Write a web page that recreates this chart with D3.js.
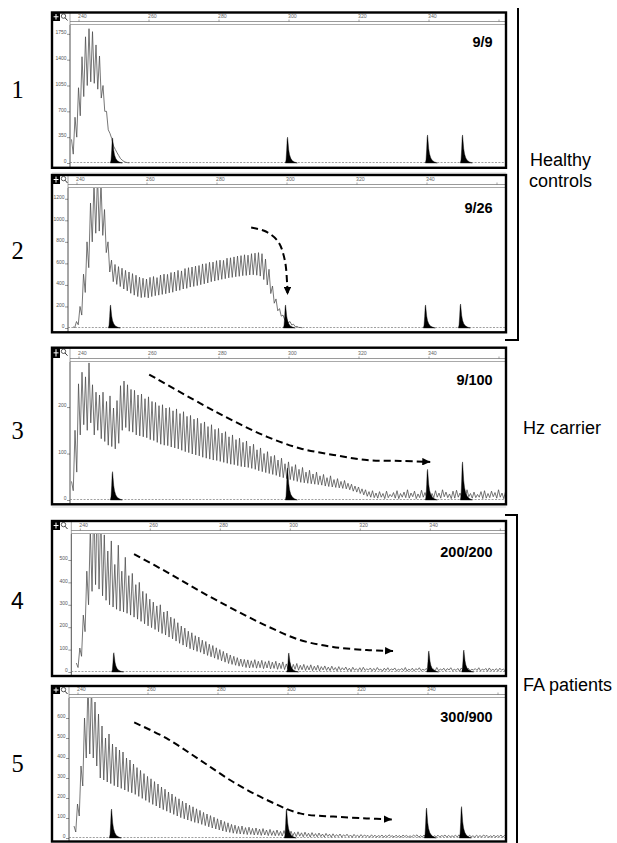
<!DOCTYPE html>
<html>
<head>
<meta charset="utf-8">
<title>Repeat expansion electropherograms</title>
<script src="https://cdn.jsdelivr.net/npm/d3@7"></script>
<style>
  body { margin: 0; background: #fff; }
  svg { display: block; }
</style>
</head>
<body>
<div id="chart"></div>
<script>
// ---- values ------------------------------------------------------------
const panelNumbers = ["1", "2", "3", "4", "5"];
const ratioLabels = ["9/9", "9/26", "9/100", "200/200", "300/900"];
const rulerTicks = [240, 260, 280, 300, 320, 340, 360];

const yTicks1 = [0, 350, 700, 1050, 1400, 1750];
const yTicks2 = [0, 200, 400, 600, 800, 1000, 1200];
const yTicks3 = [0, 100, 200];
const yTicks4 = [0, 100, 200, 300, 400, 500];
const yTicks5 = [0, 100, 200, 300, 400, 500, 600];
const yMax = [1870, 1300, 297, 616, 700];

// size standard peaks (bp) and their heights in each panel
const standardSizes = [249.7, 299.7, 339.7, 349.7];
const standardHeights1 = [340, 350, 380, 380];
const standardHeights2 = [214, 214, 214, 223];
const standardHeights3 = [61, 69, 66, 82];
const standardHeights4 = [86, 85, 94, 98];
const standardHeights5 = [145, 145, 150, 157];

// repeat trace: stutter maxima at whole bp from traceStart, minima half a bp later
const traceStart = [238, 239, 238, 239, 239];

const peaks1 = [320, 620, 1020, 1440, 1710, 1820, 1780, 1600, 1450, 1050, 700, 400, 230, 140, 60, 20, 5];
const valleys1 = [120, 350, 640, 900, 1050, 1100, 1080, 1000, 880, 700, 450, 330, 185, 100, 38, 10, 2];

const peaks2 = [10, 60, 200, 500, 800, 1160, 1350, 1420, 1350, 1100,
  800, 630, 590, 570, 555, 535, 520, 505, 490, 472,
  462, 455, 470, 478, 468, 492, 500, 498, 515, 520,
  535, 530, 552, 560, 566, 575, 580, 595, 598, 610,
  612, 625, 630, 628, 648, 652, 660, 668, 672, 680,
  676, 690, 695, 700, 690, 640, 545, 390, 270, 180,
  120, 85, 60, 35, 15, 5];
const valleys2 = [5, 30, 120, 330, 560, 800, 880, 900, 860, 700,
  520, 430, 405, 385, 362, 345, 322, 305, 292, 282,
  286, 280, 292, 300, 305, 312, 318, 326, 332, 344,
  350, 362, 368, 380, 386, 394, 402, 410, 418, 430,
  436, 444, 452, 458, 466, 470, 476, 480, 486, 488,
  492, 494, 490, 482, 450, 400, 320, 230, 160, 110,
  75, 48, 28, 12, 5, 2];

const peaks3 = [40, 150, 250, 275, 265, 295, 248, 232, 226, 232,
  212, 224, 198, 214, 246, 256, 248, 238, 236, 226,
  228, 218, 222, 212, 210, 203, 205, 198, 199, 192,
  196, 186, 190, 180, 182, 174, 176, 165, 168, 158,
  162, 152, 154, 144, 147, 136, 140, 130, 133, 124,
  127, 116, 120, 108, 112, 100, 104, 94, 96, 86,
  90, 78, 82, 72, 76, 66, 70, 60, 64, 56,
  60, 52, 55, 48, 52, 44, 46, 40, 42, 36,
  34, 30, 28, 24, 22, 18, 20, 15, 18, 14,
  19, 12, 16, 20, 14, 17, 22, 15, 19, 13,
  21, 16, 18, 14, 20, 15, 22, 17, 13, 19,
  21, 15, 18, 22, 14, 17, 12, 18, 20, 14,
  19, 16, 22, 15, 18];
const valleys3 = [20, 60, 140, 162, 150, 166, 140, 150, 132, 126,
  118, 115, 110, 122, 150, 156, 148, 146, 140, 138,
  136, 134, 130, 128, 124, 120, 118, 117, 114, 112,
  110, 107, 104, 102, 99, 97, 95, 92, 90, 88,
  86, 85, 83, 81, 79, 77, 76, 74, 72, 71,
  70, 68, 66, 63, 61, 59, 57, 55, 53, 50,
  48, 46, 44, 42, 40, 38, 37, 36, 35, 34,
  33, 32, 30, 29, 28, 27, 26, 25, 24, 22,
  19, 17, 14, 11, 8, 6, 5, 4, 6, 3,
  5, 7, 4, 3, 6, 5, 4, 7, 3, 5,
  6, 4, 3, 5, 6, 4, 7, 5, 3, 4,
  6, 5, 3, 7, 4, 5, 6, 3, 4, 5,
  7, 4, 6, 3, 5];

const peaks4 = [40, 107, 254, 450, 640, 760, 800, 720, 612, 540,
  585, 480, 566, 450, 512, 430, 440, 390, 400, 360,
  350, 325, 312, 295, 300, 268, 272, 245, 238, 220,
  205, 196, 182, 175, 162, 156, 142, 136, 124, 118,
  108, 100, 92, 84, 76, 70, 64, 58, 56, 54,
  50, 55, 48, 52, 46, 50, 44, 48, 40, 45,
  36, 42, 34, 38, 30, 34, 28, 32, 26, 30,
  24, 27, 22, 26, 20, 24, 19, 22, 17, 21,
  15, 19, 21, 14, 18, 16, 20, 13, 17, 19,
  14, 18, 12, 16, 20, 13, 17, 15, 19, 12,
  16, 18, 14, 20, 13, 17, 15, 19, 12, 16,
  18, 14, 17, 12, 15, 19, 13, 16, 18, 12,
  15, 17, 13, 16];
const valleys4 = [20, 70, 180, 300, 360, 390, 370, 340, 320, 300,
  290, 280, 272, 268, 262, 254, 245, 236, 226, 215,
  206, 198, 190, 180, 172, 165, 156, 148, 138, 128,
  120, 112, 104, 98, 92, 88, 80, 74, 68, 62,
  56, 50, 44, 38, 34, 30, 26, 24, 20, 18,
  20, 17, 19, 15, 18, 14, 16, 12, 15, 11,
  13, 10, 12, 8, 10, 7, 9, 6, 8, 5,
  9, 7, 6, 8, 5, 7, 9, 6, 4, 8,
  6, 5, 7, 9, 5, 6, 8, 4, 7, 6,
  9, 5, 8, 6, 4, 7, 5, 9, 6, 8,
  5, 7, 4, 6, 8, 5, 9, 6, 7, 4,
  8, 5, 6, 9, 7, 5, 8, 4, 6, 7,
  5, 8, 6, 4];

const peaks5 = [60, 170, 360, 600, 780, 760, 680, 620, 560, 500,
  520, 470, 455, 440, 430, 400, 390, 370, 352, 338,
  322, 308, 296, 282, 270, 255, 244, 230, 220, 206,
  196, 184, 175, 164, 156, 146, 138, 128, 120, 112,
  104, 96, 90, 82, 76, 68, 64, 58, 60, 52,
  54, 48, 50, 44, 47, 40, 43, 36, 40, 33,
  37, 30, 34, 28, 31, 26, 29, 24, 27, 22,
  25, 20, 23, 19, 21, 17, 20, 16, 19, 15,
  18, 14, 17, 15, 13, 16, 14, 12, 15, 13,
  16, 11, 14, 12, 15, 13, 11, 14, 16, 12,
  15, 13, 16, 11, 14, 12, 15, 13, 11, 14,
  16, 12, 15, 13, 11, 14, 12, 15, 13, 11,
  14, 12, 15, 13];
const valleys5 = [30, 110, 260, 400, 420, 400, 360, 300, 290, 280,
  272, 262, 255, 248, 240, 232, 226, 218, 208, 198,
  188, 178, 168, 160, 150, 142, 134, 126, 118, 110,
  102, 96, 90, 84, 78, 74, 68, 62, 56, 50,
  45, 40, 35, 31, 28, 24, 22, 20, 19, 17,
  18, 15, 16, 13, 15, 12, 13, 11, 12, 10,
  11, 9, 10, 7, 9, 6, 8, 5, 8, 6,
  7, 5, 8, 4, 6, 7, 5, 8, 6, 4,
  7, 5, 6, 8, 4, 6, 5, 7, 4, 6,
  8, 5, 6, 4, 7, 5, 6, 8, 4, 5,
  7, 6, 4, 6, 5, 8, 4, 6, 7, 5,
  4, 6, 5, 7, 4, 6, 5, 8, 4, 6,
  5, 7, 4, 6];

// dashed arrows, as [bp, signal] points
const arrow2 = [[289.9, 933], [294.1, 896], [297.6, 803], [299.5, 632], [300.2, 400], [300.3, 307]];
const arrow3 = [[260.2, 270], [274.8, 208], [284.3, 170], [293.9, 136], [303.4, 111], [312.9, 97], [322.4, 86], [332, 84], [340.5, 82]];
const arrow4 = [[255.5, 526], [264.9, 446], [274.3, 361], [283.8, 281], [293.5, 205], [302.9, 143], [312.3, 112], [322, 98], [329.5, 94]];
const arrow5 = [[256.2, 578], [265.5, 498], [275, 390], [284.5, 280], [294.1, 190], [303.6, 123], [313.1, 107], [322.6, 98], [329.8, 93]];

// ---- layout ------------------------------------------------------------
const width = 617, height = 843;
const frameLeft = 52, frameRight = 506;
const sans = "'Liberation Sans', Arial, Helvetica, sans-serif";
const serif = "'Liberation Serif', 'Times New Roman', serif";

const layout = [
  { top: 12.5, ruler: 25, zero: 163, bottom: 167.8, shift: 0, numY: 98, ratioY: 46.7 },
  { top: 175, ruler: 188, zero: 328, bottom: 332.3, shift: -2, numY: 259.3, ratioY: 212.7 },
  { top: 347.7, ruler: 362, zero: 500, bottom: 504.3, shift: 0, numY: 439, ratioY: 385 },
  { top: 521, ruler: 534, zero: 672, bottom: 676, shift: 1.3, numY: 609.3, ratioY: 556.7 },
  { top: 686, ruler: 698, zero: 838, bottom: 841.5, shift: -1, numY: 771.7, ratioY: 721.7 }
];

const yTicks = [yTicks1, yTicks2, yTicks3, yTicks4, yTicks5];
const standardHeights = [standardHeights1, standardHeights2, standardHeights3, standardHeights4, standardHeights5];
const peaks = [peaks1, peaks2, peaks3, peaks4, peaks5];
const valleys = [valleys1, valleys2, valleys3, valleys4, valleys5];
const arrows = [null, arrow2, arrow3, arrow4, arrow5];

// spike profile of a size-standard peak (offset in bp, fraction of height)
const spikeShape = [[-0.6, 0], [-0.4, 0.12], [-0.22, 0.5], [-0.08, 0.92], [0.04, 1], [0.18, 0.78],
  [0.35, 0.52], [0.6, 0.32], [0.95, 0.18], [1.4, 0.09], [2.0, 0.04], [2.8, 0]];

const svg = d3.select("#chart").append("svg")
  .attr("width", width)
  .attr("height", height)
  .style("font-family", sans);

svg.append("rect").attr("width", width).attr("height", height).attr("fill", "#fff");

const defs = svg.append("defs");
defs.append("marker")
  .attr("id", "arrowhead")
  .attr("viewBox", "0 0 10 10")
  .attr("refX", 10)
  .attr("refY", 5)
  .attr("markerWidth", 8)
  .attr("markerHeight", 7.5)
  .attr("markerUnits", "userSpaceOnUse")
  .attr("preserveAspectRatio", "none")
  .attr("orient", "auto")
  .append("path")
  .attr("d", "M0,0 L10,5 L0,10 Z")
  .attr("fill", "#000");

// faint scan lines under panels 1 and 3
[173, 507].forEach(yy => {
  svg.append("line")
    .attr("x1", frameLeft).attr("x2", frameRight)
    .attr("y1", yy).attr("y2", yy)
    .attr("stroke", "#d8d8d8").attr("stroke-width", 1.2);
});

panelNumbers.forEach((num, i) => {
  const L = layout[i];
  const plotLeft = 70 + L.shift;

  const x = d3.scaleLinear().domain([240, 340]).range([78.5 + L.shift, 428.5 + L.shift]);
  const y = d3.scaleLinear().domain([0, yMax[i]]).range([L.zero, L.ruler]);

  const panel = svg.append("g").attr("class", "panel panel-" + num);

  panel.append("clipPath")
    .attr("id", "clip-" + i)
    .append("rect")
    .attr("x", plotLeft)
    .attr("y", L.ruler)
    .attr("width", frameRight - plotLeft)
    .attr("height", L.bottom - L.ruler);

  // size ruler across the top
  const ruler = panel.append("g")
    .attr("transform", `translate(0,${L.ruler - 3.5})`)
    .call(d3.axisTop(x)
      .tickValues(rulerTicks)
      .tickSize(2)
      .tickSizeOuter(0)
      .tickPadding(1.2)
      .tickFormat(d => d < 360 ? d : ""));
  ruler.select(".domain").remove();
  ruler.attr("font-size", 5.2).attr("font-family", sans);
  ruler.selectAll("line").attr("stroke", "#666").attr("stroke-width", 0.6);
  ruler.selectAll("text").attr("text-anchor", "start").attr("dx", -1).attr("fill", "#666");

  panel.append("line")
    .attr("x1", plotLeft).attr("x2", frameRight)
    .attr("y1", L.ruler - 3.5).attr("y2", L.ruler - 3.5)
    .attr("stroke", "#555").attr("stroke-width", 0.6);
  panel.append("line")
    .attr("x1", plotLeft).attr("x2", frameRight)
    .attr("y1", L.ruler - 0.5).attr("y2", L.ruler - 0.5)
    .attr("stroke", "#aaa").attr("stroke-width", 1);

  // toolbar icons at the left of the ruler
  const iconH = L.ruler - L.top - 4;
  panel.append("rect")
    .attr("x", frameLeft).attr("y", L.top)
    .attr("width", 8).attr("height", iconH)
    .attr("fill", "#000");
  panel.append("path")
    .attr("d", `M${frameLeft + 1.5},${L.top + iconH / 2} h5 M${frameLeft + 4},${L.top + 1.5} v${iconH - 3}`)
    .attr("stroke", "#fff").attr("stroke-width", 1);
  panel.append("circle")
    .attr("cx", frameLeft + 11.5).attr("cy", L.top + 3.6).attr("r", 2.2)
    .attr("fill", "none").attr("stroke", "#333").attr("stroke-width", 0.8);
  panel.append("line")
    .attr("x1", frameLeft + 13).attr("y1", L.top + 5.2)
    .attr("x2", frameLeft + 15.5).attr("y2", L.top + 8)
    .attr("stroke", "#333").attr("stroke-width", 1);
  panel.append("line")
    .attr("x1", plotLeft).attr("x2", plotLeft)
    .attr("y1", L.top).attr("y2", L.ruler)
    .attr("stroke", "#666").attr("stroke-width", 0.6);

  // signal axis
  const yAxis = panel.append("g")
    .attr("transform", `translate(${plotLeft},0)`)
    .call(d3.axisLeft(y)
      .tickValues(yTicks[i])
      .tickFormat(d3.format("d"))
      .tickSize(3)
      .tickSizeOuter(0)
      .tickPadding(0.5));
  yAxis.select(".domain").remove();
  yAxis.attr("font-size", 5).attr("font-family", sans);
  yAxis.selectAll("text").attr("dy", "-0.05em").attr("fill", "#555");
  yAxis.selectAll("line").attr("stroke", "#555").attr("stroke-width", 0.6);

  panel.append("line")
    .attr("x1", plotLeft).attr("x2", plotLeft)
    .attr("y1", L.ruler).attr("y2", L.bottom)
    .attr("stroke", "#222").attr("stroke-width", 0.8);

  const plot = panel.append("g").attr("clip-path", `url(#clip-${i})`);

  // baseline of the size-standard channel
  plot.append("line")
    .attr("x1", plotLeft).attr("x2", frameRight)
    .attr("y1", y(0) - 0.5).attr("y2", y(0) - 0.5)
    .attr("stroke", "#777").attr("stroke-width", 0.7)
    .attr("stroke-dasharray", "2,1.4");

  // repeat trace
  const pts = [];
  const n = Math.min(peaks[i].length, valleys[i].length);
  for (let k = 0; k < n; k++) {
    pts.push([traceStart[i] + k, peaks[i][k]]);
    pts.push([traceStart[i] + k + 0.5, valleys[i][k]]);
  }
  plot.append("path")
    .attr("d", d3.line().x(d => x(d[0])).y(d => y(d[1]))(pts))
    .attr("fill", "none")
    .attr("stroke", "#4a4a4a")
    .attr("stroke-width", 0.75)
    .attr("stroke-linejoin", "round");

  // size standard spikes
  const spike = d3.area().y0(y(0));
  standardSizes.forEach((s, j) => {
    const h = standardHeights[i][j];
    plot.append("path")
      .attr("d", spike.x(d => x(s + d[0])).y1(d => y(d[1] * h))(spikeShape))
      .attr("fill", "#000")
      .attr("stroke", "#000")
      .attr("stroke-width", 0.4);
  });

  // dashed trend arrow
  if (arrows[i]) {
    panel.append("path")
      .attr("d", d3.line().curve(d3.curveCatmullRom).x(d => x(d[0])).y(d => y(d[1]))(arrows[i]))
      .attr("fill", "none")
      .attr("stroke", "#000")
      .attr("stroke-width", 2)
      .attr("stroke-dasharray", "7,4")
      .attr("marker-end", "url(#arrowhead)");
  }

  // outer frame
  panel.append("rect")
    .attr("x", frameLeft).attr("y", L.top)
    .attr("width", frameRight - frameLeft).attr("height", L.bottom - L.top)
    .attr("fill", "none").attr("stroke", "#000").attr("stroke-width", 2.4);

  panel.append("text")
    .attr("x", 492.7).attr("y", L.ratioY)
    .attr("text-anchor", "end")
    .attr("font-weight", "bold")
    .attr("font-size", 14.5)
    .text(ratioLabels[i]);

  svg.append("text")
    .attr("x", 17.5).attr("y", L.numY)
    .attr("text-anchor", "middle")
    .attr("font-family", num === "4" ? sans : serif)
    .attr("font-size", num === "4" ? 23 : 24.5)
    .text(num);
});

// group brackets and labels
svg.append("path")
  .attr("d", "M518,8 V340 H505")
  .attr("fill", "none").attr("stroke", "#000").attr("stroke-width", 2);
svg.append("path")
  .attr("d", "M505,515 H517 V843")
  .attr("fill", "none").attr("stroke", "#000").attr("stroke-width", 2);

const groupText = svg.append("g").attr("font-size", 18).attr("fill", "#000");
groupText.append("text").attr("x", 530).attr("y", 166).text("Healthy");
groupText.append("text").attr("x", 529).attr("y", 187).text("controls");
groupText.append("text").attr("x", 523).attr("y", 434).text("Hz carrier");
groupText.append("text").attr("x", 523).attr("y", 690.5).text("FA patients");
</script>
</body>
</html>
